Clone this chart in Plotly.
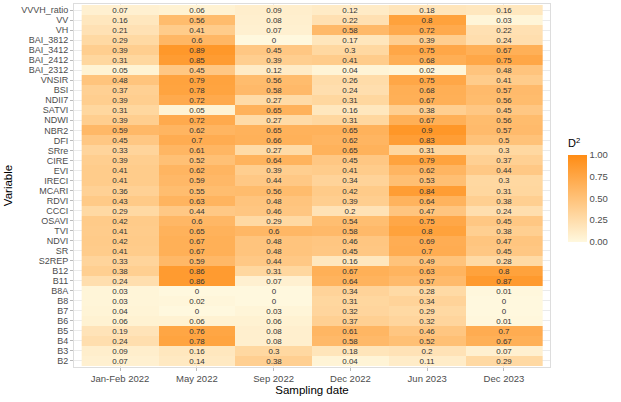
import plotly.graph_objects as go

dates = ["Jan-Feb 2022", "May 2022", "Sep 2022", "Dec 2022", "Jun 2023", "Dec 2023"]
variables = ["VVVH_ratio", "VV", "VH", "BAI_3812", "BAI_3412", "BAI_2412", "BAI_2312",
             "VNSIR", "BSI", "NDII7", "SATVI", "NDWI", "NBR2", "DFI", "SRre", "CIRE",
             "EVI", "IRECI", "MCARI", "RDVI", "CCCI", "OSAVI", "TVI", "NDVI", "SR",
             "S2REP", "B12", "B11", "B8A", "B8", "B7", "B6", "B5", "B4", "B3", "B2"]

VVVH_ratio = [0.07, 0.06, 0.09, 0.12, 0.18, 0.16]
VV = [0.16, 0.56, 0.08, 0.22, 0.8, 0.03]
VH = [0.21, 0.41, 0.07, 0.58, 0.72, 0.22]
BAI_3812 = [0.29, 0.6, 0, 0.17, 0.39, 0.24]
BAI_3412 = [0.39, 0.89, 0.45, 0.3, 0.75, 0.67]
BAI_2412 = [0.31, 0.85, 0.39, 0.41, 0.68, 0.75]
BAI_2312 = [0.05, 0.45, 0.12, 0.04, 0.02, 0.48]
VNSIR = [0.48, 0.79, 0.56, 0.26, 0.75, 0.41]
BSI = [0.37, 0.78, 0.58, 0.24, 0.68, 0.57]
NDII7 = [0.39, 0.72, 0.27, 0.31, 0.67, 0.56]
SATVI = [0.31, 0.05, 0.65, 0.16, 0.38, 0.45]
NDWI = [0.39, 0.72, 0.27, 0.31, 0.67, 0.56]
NBR2 = [0.59, 0.62, 0.65, 0.65, 0.9, 0.57]
DFI = [0.45, 0.7, 0.66, 0.62, 0.83, 0.5]
SRre = [0.33, 0.61, 0.27, 0.65, 0.31, 0.3]
CIRE = [0.39, 0.52, 0.64, 0.45, 0.79, 0.37]
EVI = [0.41, 0.62, 0.39, 0.41, 0.62, 0.44]
IRECI = [0.41, 0.59, 0.44, 0.34, 0.53, 0.3]
MCARI = [0.36, 0.55, 0.56, 0.42, 0.84, 0.31]
RDVI = [0.43, 0.63, 0.48, 0.39, 0.64, 0.38]
CCCI = [0.29, 0.44, 0.46, 0.2, 0.47, 0.24]
OSAVI = [0.42, 0.6, 0.29, 0.54, 0.75, 0.45]
TVI = [0.41, 0.65, 0.6, 0.58, 0.8, 0.38]
NDVI = [0.42, 0.67, 0.48, 0.46, 0.69, 0.47]
SR = [0.41, 0.67, 0.48, 0.45, 0.7, 0.45]
S2REP = [0.33, 0.59, 0.44, 0.16, 0.49, 0.28]
B12 = [0.38, 0.86, 0.31, 0.67, 0.63, 0.8]
B11 = [0.24, 0.86, 0.07, 0.64, 0.57, 0.87]
B8A = [0.03, 0, 0, 0.34, 0.28, 0.01]
B8 = [0.03, 0.02, 0, 0.31, 0.34, 0]
B7 = [0.04, 0, 0.03, 0.32, 0.29, 0]
B6 = [0.06, 0.06, 0.06, 0.37, 0.32, 0.01]
B5 = [0.19, 0.76, 0.08, 0.61, 0.46, 0.7]
B4 = [0.24, 0.78, 0.08, 0.58, 0.52, 0.67]
B3 = [0.09, 0.16, 0.3, 0.18, 0.2, 0.07]
B2 = [0.07, 0.14, 0.38, 0.04, 0.11, 0.29]

rows = [VVVH_ratio, VV, VH, BAI_3812, BAI_3412, BAI_2412, BAI_2312, VNSIR, BSI, NDII7,
        SATVI, NDWI, NBR2, DFI, SRre, CIRE, EVI, IRECI, MCARI, RDVI, CCCI, OSAVI, TVI,
        NDVI, SR, S2REP, B12, B11, B8A, B8, B7, B6, B5, B4, B3, B2]

legend_ticks = [0, 0.25, 0.5, 0.75, 1.0]
legend_labels = ["0.00", "0.25", "0.50", "0.75", "1.00"]

W, H = 621, 402
L, R, T, B = 74, 71, 4, 35
ph = H - T - B

fig = go.Figure(go.Heatmap(
    z=rows, x=dates, y=variables,
    zmin=0, zmax=1,
    colorscale=[[0, "#FFF8DE"], [1, "#FF8C14"]],
    texttemplate="%{z}",
    textfont=dict(size=8, color="#333333", family="Liberation Sans, Arial"),
    colorbar=dict(
        title=dict(text="D<sup>2</sup>", side="top", font=dict(size=11, color="#000000")),
        x=(566 - L) / (W - L - R), xanchor="left",
        y=(H - B - 189) / ph, yanchor="middle",
        len=106, lenmode="pixels", thickness=19,
        tickmode="array", tickvals=legend_ticks, ticktext=legend_labels,
        ticks="", outlinewidth=0, ypad=0, xpad=2,
        tickfont=dict(size=9.5, color="#4D4D4D"),
    ),
))

fig.update_layout(
    width=W, height=H,
    margin=dict(l=L, r=R, t=T, b=B, autoexpand=False),
    paper_bgcolor="white", plot_bgcolor="white",
    font=dict(family="Liberation Sans, Arial", color="#4D4D4D"),
    xaxis=dict(
        type="category", categoryorder="array", categoryarray=dates,
        tickmode="array", tickvals=dates, ticktext=dates,
        range=[-0.6, 5.6], automargin=False,
        title=dict(text="Sampling date", font=dict(size=11.5, color="#000000"), standoff=2),
        tickfont=dict(size=9.5, color="#4D4D4D"),
        ticks="outside", ticklen=3, tickcolor="#BBBBBB",
        showgrid=True, gridcolor="#EBEBEB",
        showline=True, mirror=True, linecolor="#DDDDDD", linewidth=1,
        zeroline=False,
    ),
    yaxis=dict(
        type="category", categoryorder="array", categoryarray=variables,
        tickmode="array", tickvals=variables, ticktext=variables,
        range=[35.6, -0.6], automargin=False,
        title=dict(text="Variable", font=dict(size=11.5, color="#000000"), standoff=6),
        tickfont=dict(size=9, color="#4D4D4D"),
        ticks="outside", ticklen=3, tickcolor="#BBBBBB",
        showgrid=True, gridcolor="#EBEBEB",
        showline=True, mirror=True, linecolor="#DDDDDD", linewidth=1,
        zeroline=False,
    ),
)

fig.write_html("out.html", config={"displayModeBar": False},
               post_script="document.body.style.margin='0';document.body.style.overflow='hidden';")
